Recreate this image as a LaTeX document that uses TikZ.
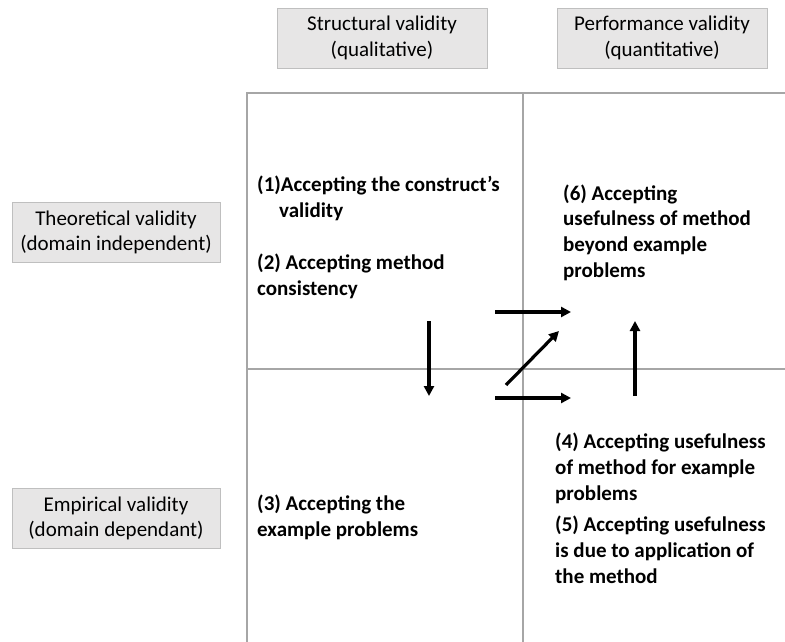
\documentclass[tikz,border=0pt]{standalone}
\usepackage{fontspec}
\setmainfont{Carlito}
\usepackage{tikz}
\usetikzlibrary{arrows.meta}
\definecolor{boxfill}{HTML}{E7E6E6}
\definecolor{boxline}{HTML}{BFBFBF}
\definecolor{gridline}{HTML}{A6A6A6}

\begin{document}
\begin{tikzpicture}[x=1pt, y=-1pt,
    header/.style={draw=boxline, fill=boxfill, line width=0.8pt, align=center,
      minimum width=210pt, minimum height=60pt, inner sep=0pt,
      font=\fontsize{21}{25.6}\selectfont},
    claim/.style={anchor=base west, align=left, inner sep=0pt,
      font=\fontsize{21}{25.6}\selectfont\bfseries},
    grid/.style={draw=gridline, line width=1.3pt},
    flow/.style={line width=3.2pt, -{Triangle[length=10pt, width=10pt]}}]
    \useasboundingbox (0,0) rectangle (785,642);
    % column and row headings
    \node[header] (structural) at (382,38) {Structural validity\\(qualitative)};
    \node[header] (performance) at (662,38) {Performance validity\\(quantitative)};
    \node[header, minimum width=208pt] (theoretical) at (116,232.5) {Theoretical validity\\(domain independent)};
    \node[header, minimum width=208pt] (empirical) at (116,518.5) {Empirical validity\\(domain dependant)};
    % the four quadrants
    \draw[grid] (247,642) -- (247,93) -- (785,93);
    \draw[grid] (523,93) -- (523,642);
    \draw[grid] (247,369) -- (785,369);
    % claims (placed at the baseline of their last line)
    \node[claim] (c1) at (257,217) {(1)Accepting the construct's\\\hspace*{22pt}validity};
    \node[claim] (c2) at (257,295) {(2) Accepting method\\consistency};
    \node[claim] (c3) at (257,536) {(3) Accepting the\\example problems};
    \node[claim] (c4) at (555,500) {(4) Accepting usefulness\\of method for example\\problems};
    \node[claim] (c5) at (555,583) {(5) Accepting usefulness\\is due to application of\\the method};
    \node[claim] (c6) at (563,277) {(6) Accepting\\usefulness of method\\beyond example\\problems};
    % arrows between claims
    \coordinate (d1) at (429,321);
    \coordinate (d2) at (429,396);
    \coordinate (r1) at (495,312);
    \coordinate (r2) at (571,312);
    \coordinate (s1) at (495,398);
    \coordinate (s2) at (571,398);
    \coordinate (g1) at (506,385);
    \coordinate (g2) at (559,331);
    \coordinate (u1) at (635,396);
    \coordinate (u2) at (635,321);
    \draw[flow] (d1) -- (d2);
    \draw[flow] (r1) -- (r2);
    \draw[flow] (s1) -- (s2);
    \draw[flow] (g1) -- (g2);
    \draw[flow] (u1) -- (u2);
  \end{tikzpicture}
\end{document}
